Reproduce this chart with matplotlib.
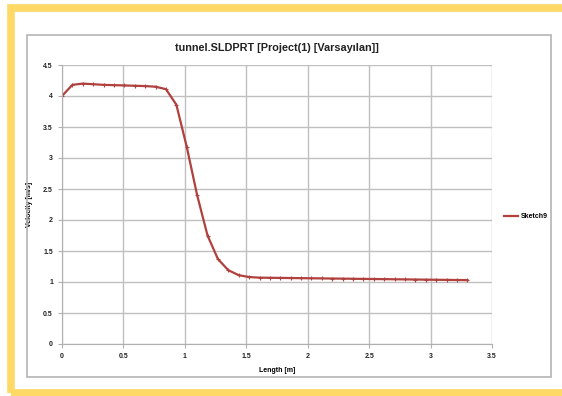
import numpy as np
import matplotlib.pyplot as plt
from matplotlib.patches import Rectangle

plt.rcParams['font.family'] = ['Liberation Sans', 'DejaVu Sans']

# Velocity along the tunnel sketch
length = np.linspace(0, 3.3, 40)
velocity = [4.00, 4.18, 4.20, 4.19, 4.18, 4.175, 4.17, 4.165, 4.16, 4.15,
            4.11, 3.86, 3.18, 2.40, 1.75, 1.37, 1.19, 1.11, 1.08, 1.07,
            1.068, 1.066, 1.064, 1.062, 1.06, 1.058, 1.056, 1.054, 1.052, 1.05,
            1.048, 1.046, 1.044, 1.042, 1.04, 1.038, 1.036, 1.034, 1.032, 1.03]
series_name = "Sketch9"
title = "tunnel.SLDPRT [Project(1) [Varsayılan]]"

W, H = 562, 396
fig = plt.figure(figsize=(W / 100, H / 100), dpi=100)
fig.patch.set_facecolor("white")

# yellow frame round the picture
fig.patches.append(Rectangle((10.5 / W, 3.0 / H), 555 / W, 385 / H, transform=fig.transFigure,
                             fill=False, edgecolor="#FFD966", linewidth=5.5))
# grey chart border
fig.patches.append(Rectangle((27 / W, 1 - 377 / H), 524 / W, 342 / H, transform=fig.transFigure,
                             fill=False, edgecolor="#B4B4B4", linewidth=1.2))

ax = fig.add_axes([62 / W, 1 - 344 / H, 430 / W, 279 / H])
ax.plot(length, velocity, color="#B0413E", linewidth=1.6, marker="+",
        markersize=3, markeredgewidth=0.8, label=series_name)

ax.set_xlim(0, 3.5)
ax.set_ylim(0, 4.5)
ax.set_xticks(np.arange(0, 3.51, 0.5))
ax.set_yticks(np.arange(0, 4.51, 0.5))
ax.set_xticklabels(["0", "0.5", "1", "1.5", "2", "2.5", "3", "3.5"])
ax.set_yticklabels(["0", "0.5", "1", "1.5", "2", "2.5", "3", "3.5", "4", "4.5"])
ax.grid(True, color="#C0C0C0", linewidth=1.0)
ax.set_axisbelow(True)
for s in ax.spines.values():
    s.set_color("#B0B0B0")
ax.spines["top"].set_visible(False)
ax.spines["right"].set_visible(False)
ax.tick_params(axis="both", labelsize=5, colors="#B0B0B0", length=3, width=0.8, labelcolor="#222222")
for lbl in ax.get_xticklabels() + ax.get_yticklabels():
    lbl.set_fontweight("bold")

ax.set_title(title, fontsize=7.8, fontweight="bold", color="#222222", pad=10)
ax.set_xlabel("Length [m]", fontsize=5, fontweight="bold", labelpad=5)
ax.set_ylabel("Velocity [m/s]", fontsize=5, fontweight="bold", labelpad=7)

fig.legend(loc="center left", bbox_to_anchor=(504 / W, 1 - 217 / H), frameon=False,
           prop={"size": 5, "weight": "bold"}, handlelength=2.0, handletextpad=0.4,
           borderaxespad=0, borderpad=0)
for h in fig.legends[0].legend_handles:
    h.set_marker("")

fig.savefig("out.png", dpi=100)
